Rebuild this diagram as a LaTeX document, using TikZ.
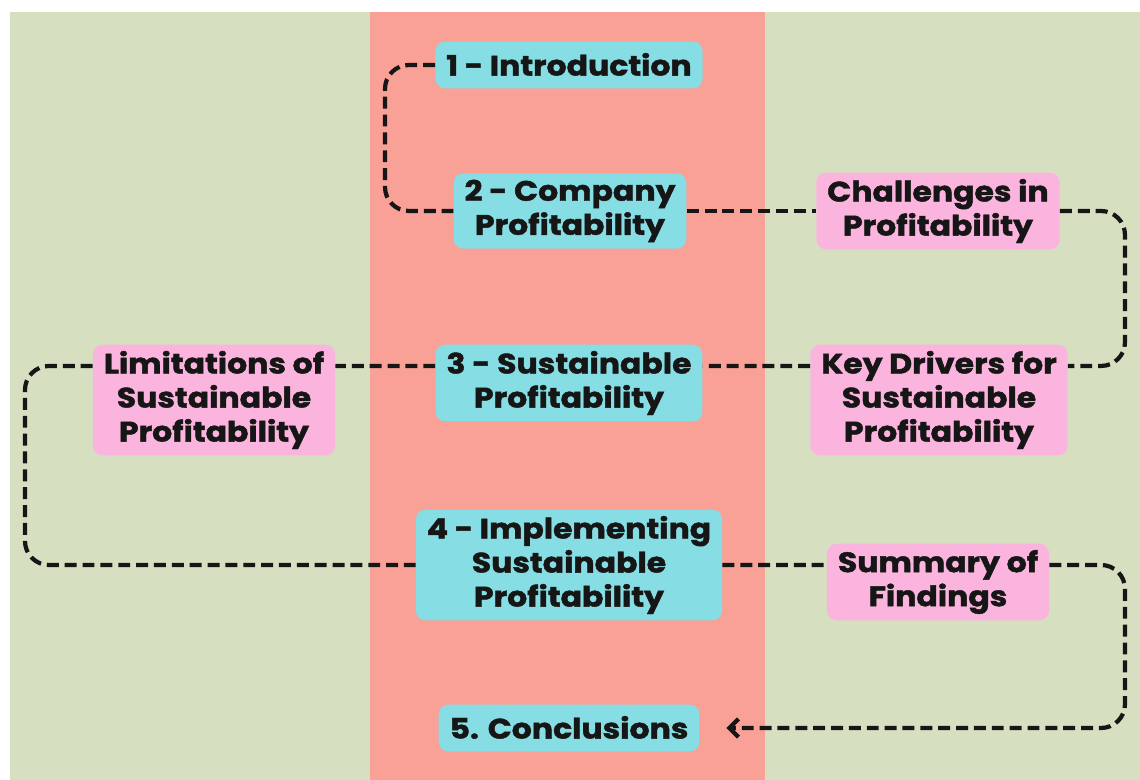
\documentclass[tikz,border=0pt]{standalone}
\usepackage{fontspec}
\setmainfont{Poppins}[BoldFeatures={FakeStretch=1.12,FakeBold=1.6}]
\usetikzlibrary{arrows.meta}

\definecolor{paper}{RGB}{214,224,193}
\definecolor{band}{RGB}{249,161,151}
\definecolor{partcol}{RGB}{134,221,228}
\definecolor{topiccol}{RGB}{251,180,221}
\definecolor{ink}{RGB}{22,22,22}

\newcommand{\rowstrut}{\rule[-4.6pt]{0pt}{24.2pt}}

\begin{document}
\begin{tikzpicture}[x=0.025cm,y=-0.025cm,>={Straight Barb[length=6.5pt,width=13pt]},
  box/.style={rounded corners=7pt, inner xsep=7.8pt, inner ysep=4.6pt, align=center,
    font=\fontsize{20}{24.2}\selectfont\bfseries, text=ink,
    execute at begin node=\rowstrut, execute at end node=\rowstrut},
  part/.style={box, fill=partcol},
  topic/.style={box, fill=topiccol},
  link/.style={draw=ink, line width=3pt, dash pattern=on 8.5pt off 4.2pt, rounded corners=17pt}]
  \useasboundingbox (0,0) rectangle (1140,780);
  \fill[white] (0,0) rectangle (1140,780);
  \fill[paper] (10,12) rectangle (1140,780);
  \fill[band] (370,12) rectangle (765,780);

  \node[part] (intro) at (569,65) {1 - Introduction};
  \node[part] (company) at (570,211) {2 - Company\\Profitability};
  \node[topic] (challenges) at (938,211) {Challenges in\\Profitability};
  \node[part] (sustain) at (569,383) {3 - Sustainable\\Profitability};
  \node[topic] (drivers) at (939,400) {Key Drivers for\\Sustainable\\Profitability};
  \node[topic] (limits) at (214,400) {Limitations of\\Sustainable\\Profitability};
  \node[part] (implement) at (569,565) {4 - Implementing\\Sustainable\\Profitability};
  \node[topic] (summary) at (938,582) {Summary of\\Findings};
  \node[part] (concl) at (569,728) {5. Conclusions};

  % lanes where the path turns
  \coordinate (introlane) at (385,0);
  \coordinate (leftlane) at (25,0);
  \coordinate (rightlane) at (1125,0);

  % the reading path, first line to first line
  \draw[link] (intro.west) -- (intro.west -| introlane) |- (company.west);
  \draw[link] (company.east) -- (challenges.west);
  \draw[link] (challenges.east) -- (challenges.east -| rightlane) |- ([yshift=24.2pt]drivers.east);
  \draw[link] ([yshift=24.2pt]drivers.west) -- ([yshift=12.1pt]sustain.east);
  \draw[link] ([yshift=12.1pt]sustain.west) -- ([yshift=24.2pt]limits.east);
  \draw[link] ([yshift=24.2pt]limits.west) -- ([yshift=24.2pt]limits.west -| leftlane) |- (implement.west);
  \draw[link] (implement.east) -- ([yshift=12.1pt]summary.west);
  \draw[link,->,shorten >=19pt] ([yshift=12.1pt]summary.east) -- ([yshift=12.1pt]summary.east -| rightlane) |- (concl.east);
\end{tikzpicture}
\end{document}
